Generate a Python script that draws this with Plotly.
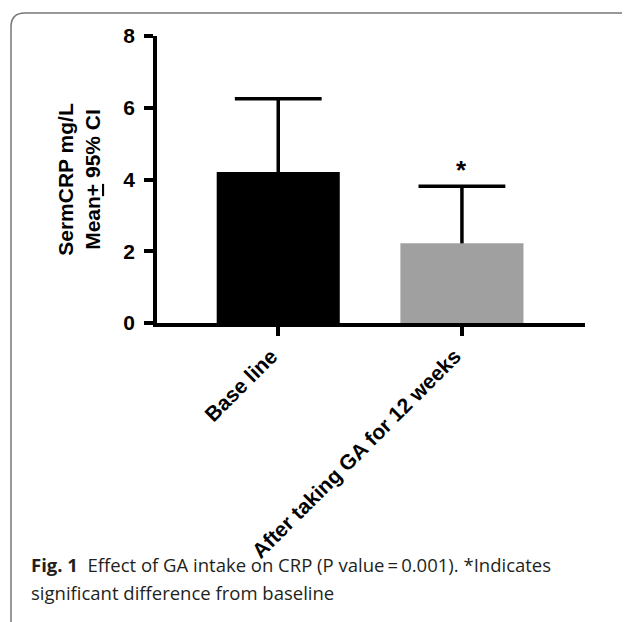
import plotly.graph_objects as go

categories = ["Base line", "After taking GA for 12 weeks"]
means = [4.21, 2.22]
upper_ci = [6.25, 3.81]
bar_colors = ["#000000", "#a0a0a0"]
marks = ["", "*"]
y_ticks = [0, 2, 4, 6, 8]

# the page body has an 8px margin; work in reference pixel coords and shift
OFF = 8
W, H = 630 - OFF, 622 - OFF
L, T = 157 - OFF, 36 - OFF
R = 45
B = H - (323 - OFF)
pw = W - L - R
ph = H - T - B

def px(x):
    return (x - OFF - L) / pw

def py(y):
    return (H - B - (y - OFF)) / ph

fig = go.Figure()
fig.add_trace(go.Bar(
    x=categories, y=means,
    marker=dict(color=bar_colors, line=dict(width=0)),
    width=0.67,
))

# upward-only error whiskers
ex, ey = [], []
for c, m, u in zip(categories, means, upper_ci):
    ex += [c, c, None]
    ey += [m, u, None]
fig.add_trace(go.Scatter(x=ex, y=ey, mode="lines",
                         line=dict(color="#000", width=3.5), hoverinfo="skip"))
fig.add_trace(go.Scatter(x=categories, y=upper_ci, mode="markers",
                         marker=dict(symbol="line-ew", size=62,
                                     line=dict(color="#000", width=3.5)),
                         hoverinfo="skip"))

for c, u, m in zip(categories, upper_ci, marks):
    if m:
        fig.add_annotation(x=c, y=u, text="<b>" + m + "</b>", showarrow=False,
                           yanchor="bottom", yshift=-1,
                           font=dict(family="Liberation Sans", size=26, color="#000"))

tick_font = dict(family="Liberation Sans", size=21, color="#000", weight="bold")

fig.update_layout(
    width=W, height=H,
    margin=dict(l=L, r=R, t=T, b=B),
    paper_bgcolor="white", plot_bgcolor="white",
    showlegend=False,
    xaxis=dict(
        range=[-0.66, 1.67], showline=True, linecolor="#000", linewidth=3.5,
        ticks="outside", ticklen=9, tickwidth=3.5, tickcolor="#000",
        tickangle=-45, tickfont=tick_font, ticklabelshift=-7,
        showgrid=False, zeroline=False,
    ),
    yaxis=dict(
        range=[0, 8], tickvals=y_ticks, showline=True, linecolor="#000", linewidth=3.5,
        ticks="outside", ticklen=9, tickwidth=3.5, tickcolor="#000",
        tickfont=tick_font, ticklabelstandoff=5,
        showgrid=False, zeroline=False,
        title=dict(text="<b>SermCRP mg/L<br>Mean<u>+</u> 95% CI</b>",
                   font=dict(family="Liberation Sans", size=21, color="#000"),
                   standoff=18),
    ),
)

# rounded frame
x0, x1, y0, y1, r = 11, 640, 13, 640, 14
X0, X1, Y0, Y1 = px(x0), px(x1), py(y0), py(y1)
rx, ry = r / pw, r / ph
path = (f"M {X0},{Y1} L {X0},{Y0 - ry} Q {X0},{Y0} {X0 + rx},{Y0} "
        f"L {X1 - rx},{Y0} Q {X1},{Y0} {X1},{Y0 - ry} L {X1},{Y1}")
fig.add_shape(type="path", path=path, xref="paper", yref="paper",
              line=dict(color="#777777", width=1.5))

cap_font = dict(family="Open Sans", size=18.5, color="#231f20")
fig.add_annotation(xref="paper", yref="paper", x=px(29), y=py(564),
                   xanchor="left", yanchor="middle", showarrow=False, align="left",
                   text="<b>Fig. 1</b>  Effect of GA intake on CRP (P value\u2009=\u20090.001). *Indicates",
                   font=cap_font)
fig.add_annotation(xref="paper", yref="paper", x=px(29), y=py(592),
                   xanchor="left", yanchor="middle", showarrow=False, align="left",
                   text="significant difference from baseline",
                   font=cap_font)

fig.write_html("out.html")
